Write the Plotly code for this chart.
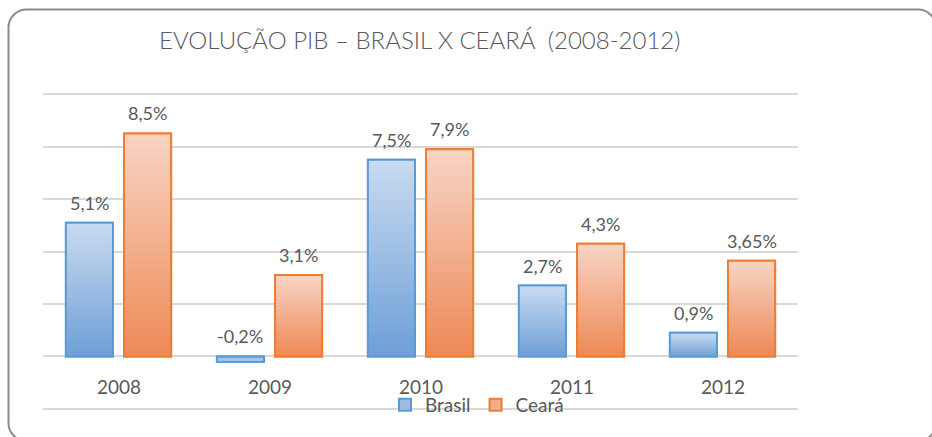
import plotly.graph_objects as go

# ---------------- data ----------------
years = ["2008", "2009", "2010", "2011", "2012"]
brasil = [5.1, -0.2, 7.5, 2.7, 0.9]
ceara = [8.5, 3.1, 7.9, 4.3, 3.65]
brasil_labels = ["5,1%", "-0,2%", "7,5%", "2,7%", "0,9%"]
ceara_labels = ["8,5%", "3,1%", "7,9%", "4,3%", "3,65%"]
series_names = ["Brasil", "Ceará"]
title_text = "EVOLUÇÃO PIB – BRASIL X CEARÁ  (2008-2012)"

# ---------------- style ----------------
W, H = 932, 437
ML, MR, MT, MB = 43, 134, 93, 27
PW, PH = W - ML - MR, H - MT - MB
YR = [-2.04, 10.04]
FONT = "Lato"
TXT = "#595959"
GRID = "#d9d9d9"
BARGAP = 0.23
GROUPGAP = 0.19
styles = [
    dict(line="#5b9bd5", top=(200, 219, 240), bottom=(110, 159, 215)),
    dict(line="#ed7d31", top=(247, 212, 196), bottom=(238, 137, 85)),
]
NSEG = 30


def mix(c1, c2, t):
    return "rgb(%d,%d,%d)" % tuple(round(a + (b - a) * t) for a, b in zip(c1, c2))


fig = go.Figure()
all_vals = [brasil, ceara]
all_labels = [brasil_labels, ceara_labels]

# legend traces (full bars, mid colour)
for j, (vals, name) in enumerate(zip(all_vals, series_names)):
    st = styles[j]
    fig.add_trace(go.Bar(
        x=years, y=vals, name=name, offsetgroup=str(j),
        marker=dict(color=mix(st["bottom"], st["top"], 0.5),
                    line=dict(color=st["line"], width=2)),
        hoverinfo="skip", showlegend=True))

# gradient segments
for j, vals in enumerate(all_vals):
    st = styles[j]
    for k in range(NSEG):
        t = (k + 0.5) / NSEG
        base = [v * k / NSEG for v in vals]
        height = [v * (min(k + 2, NSEG) - k) / NSEG for v in vals]
        fig.add_trace(go.Bar(
            x=years, y=height, base=base, offsetgroup=str(j),
            marker=dict(color=mix(st["bottom"], st["top"], t), line=dict(width=0)),
            hoverinfo="skip", showlegend=False))

# outlines
for j, vals in enumerate(all_vals):
    st = styles[j]
    fig.add_trace(go.Bar(
        x=years, y=vals, offsetgroup=str(j),
        marker=dict(color="rgba(0,0,0,0)", line=dict(color=st["line"], width=2)),
        hoverinfo="skip", showlegend=False))

annotations = []
# data labels
for j, (vals, labels) in enumerate(zip(all_vals, all_labels)):
    off = (-0.5 + (j + 0.5) / 2) * (1 - BARGAP)
    for i, (v, lab) in enumerate(zip(vals, labels)):
        annotations.append(dict(
            x=i + off, y=max(v, 0), xref="x", yref="y", text=lab, showarrow=False,
            yanchor="bottom", yshift=7, font=dict(family=FONT, size=18, color=TXT)))
# category labels
for i, yr in enumerate(years):
    annotations.append(dict(
        x=i, y=-1, xref="x", yref="y", text=yr, showarrow=False,
        yanchor="middle", yshift=-4, font=dict(family=FONT, size=19, color=TXT)))


def px(xpix):
    return (xpix - ML) / PW


def py(ypix):
    return (H - MB - ypix) / PH


# title
annotations.append(dict(
    x=px(419), y=py(40), xref="paper", yref="paper",
    text=title_text, showarrow=False, yanchor="middle", xanchor="center",
    font=dict(family=FONT, size=24, color=TXT, weight=300)))

# rounded border (decoration)
x0, y0, x1, y1, r = 8.5, 9.5, 936, 441, 18
c = 0.5523 * r
pts = [
    ("M", [(x0, y0 + r)]),
    ("C", [(x0, y0 + r - c), (x0 + r - c, y0), (x0 + r, y0)]),
    ("L", [(x1 - r, y0)]),
    ("C", [(x1 - r + c, y0), (x1, y0 + r - c), (x1, y0 + r)]),
    ("L", [(x1, y1 - r)]),
    ("C", [(x1, y1 - r + c), (x1 - r + c, y1), (x1 - r, y1)]),
    ("L", [(x0 + r, y1)]),
    ("C", [(x0 + r - c, y1), (x0, y1 - r + c), (x0, y1 - r)]),
]
path = ""
for cmd, ps in pts:
    path += cmd + " " + " ".join("%.5f,%.5f" % (px(a), py(b)) for a, b in ps) + " "
path += "Z"

fig.update_layout(
    width=W, height=H,
    margin=dict(l=ML, r=MR, t=MT, b=MB, pad=0),
    paper_bgcolor="white", plot_bgcolor="white",
    barmode="group", bargap=BARGAP, bargroupgap=GROUPGAP,
    showlegend=True,
    legend=dict(orientation="h", x=px(477), y=py(405), xanchor="center", yanchor="middle",
                bgcolor="rgba(0,0,0,0)", font=dict(family=FONT, size=19, color=TXT),
                traceorder="normal"),
    xaxis=dict(showticklabels=False, showgrid=False, zeroline=False, showline=False,
               ticks="", range=[-0.5, 4.5]),
    yaxis=dict(range=YR, dtick=2, tick0=0, showticklabels=False, ticks="",
               showgrid=True, gridcolor=GRID, gridwidth=1.5,
               zeroline=True, zerolinecolor=GRID, zerolinewidth=1.5, showline=False),
    annotations=annotations,
    shapes=[dict(type="path", xref="paper", yref="paper", path=path,
                 line=dict(color="#8a8a8a", width=2), fillcolor="rgba(0,0,0,0)",
                 layer="above")],
    font=dict(family=FONT, color=TXT),
    hovermode=False,
)

fig.write_html("out.html", config={"displayModeBar": False},
               post_script="document.body.style.margin='0';document.body.style.overflow='hidden';")
